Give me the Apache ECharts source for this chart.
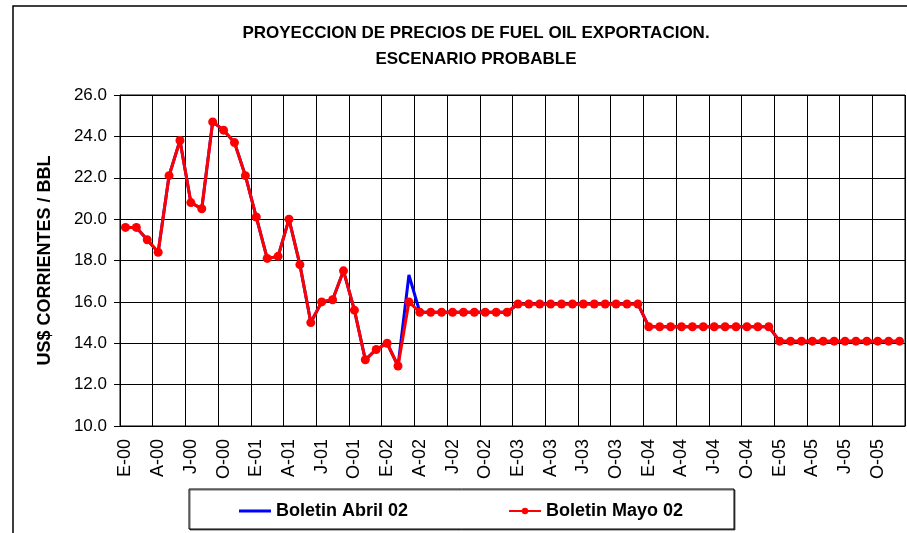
<!DOCTYPE html>
<html>
<head>
<meta charset="utf-8">
<script src="https://cdn.jsdelivr.net/npm/echarts@6/dist/echarts.min.js"></script>
<style>
  html, body { margin: 0; padding: 0; background: #fff; }
  #chart { width: 907px; height: 533px; }
</style>
</head>
<body>
<div id="chart"></div>
<script>
// meses en español (E=enero ... D=diciembre) y años
const monthLetters = ['E', 'F', 'M', 'A', 'M', 'J', 'J', 'A', 'S', 'O', 'N', 'D'];
const years = ['00', '01', '02', '03', '04', '05'];

// Boletin Abril 02 (US$/BBL)
const abril02 = [
  19.6, 19.6, 19.0, 18.4, 22.1, 23.8, 20.8, 20.5, 24.7, 24.3, 23.7, 22.1,
  20.1, 18.1, 18.2, 20.0, 17.8, 15.0, 16.0, 16.1, 17.5, 15.6, 13.2, 13.7,
  14.0, 12.9, 17.3, 15.5, 15.5, 15.5, 15.5, 15.5, 15.5, 15.5, 15.5, 15.5,
  15.9, 15.9, 15.9, 15.9, 15.9, 15.9, 15.9, 15.9, 15.9, 15.9, 15.9, 15.9,
  14.8, 14.8, 14.8, 14.8, 14.8, 14.8, 14.8, 14.8, 14.8, 14.8, 14.8, 14.8,
  14.1, 14.1, 14.1, 14.1, 14.1, 14.1, 14.1, 14.1, 14.1, 14.1, 14.1, 14.1
];

// Boletin Mayo 02 (US$/BBL)
const mayo02 = [
  19.6, 19.6, 19.0, 18.4, 22.1, 23.8, 20.8, 20.5, 24.7, 24.3, 23.7, 22.1,
  20.1, 18.1, 18.2, 20.0, 17.8, 15.0, 16.0, 16.1, 17.5, 15.6, 13.2, 13.7,
  14.0, 12.9, 16.0, 15.5, 15.5, 15.5, 15.5, 15.5, 15.5, 15.5, 15.5, 15.5,
  15.9, 15.9, 15.9, 15.9, 15.9, 15.9, 15.9, 15.9, 15.9, 15.9, 15.9, 15.9,
  14.8, 14.8, 14.8, 14.8, 14.8, 14.8, 14.8, 14.8, 14.8, 14.8, 14.8, 14.8,
  14.1, 14.1, 14.1, 14.1, 14.1, 14.1, 14.1, 14.1, 14.1, 14.1, 14.1, 14.1
];

const categories = [];
years.forEach(y => monthLetters.forEach(m => categories.push(m + '-' + y)));

const font = 'Liberation Sans, Arial, sans-serif';
const chart = echarts.init(document.getElementById('chart'));

const legendText = { fontFamily: font, fontSize: 18, fontWeight: 'bold', color: '#000' };

chart.setOption({
  animation: false,
  backgroundColor: '#fff',
  textStyle: { fontFamily: font },
  title: {
    text: 'PROYECCION DE PRECIOS DE FUEL OIL EXPORTACION.\nESCENARIO PROBABLE',
    left: 471,
    top: 15,
    textAlign: 'center',
    textStyle: {
      fontFamily: font,
      fontSize: 17,
      fontWeight: 'bold',
      color: '#000',
      lineHeight: 26
    }
  },
  graphic: [
    {
      type: 'rect',
      shape: { x: 13, y: 6, width: 1000, height: 1000 },
      style: { fill: 'none', stroke: '#000', lineWidth: 1.5 },
      silent: true
    },
    {
      type: 'rect',
      shape: { x: 189, y: 489, width: 545, height: 40 },
      style: { fill: '#fff', stroke: '#000', lineWidth: 1, shadowColor: 'rgba(0,0,0,0.6)', shadowOffsetX: 1, shadowOffsetY: 1 },
      silent: true,
      z: -1
    }
  ],
  legend: [
    {
      data: [{ name: 'Boletin Abril 02', icon: 'rect' }],
      left: 234,
      top: 497,
      itemWidth: 32,
      itemHeight: 3,
      textStyle: legendText
    },
    {
      data: ['Boletin Mayo 02'],
      left: 503,
      top: 497,
      itemWidth: 32,
      itemHeight: 8,
      textStyle: legendText
    }
  ],
  grid: {
    left: 120,
    top: 95,
    width: 785,
    height: 331,
    show: true,
    borderColor: '#000',
    borderWidth: 1
  },
  xAxis: {
    type: 'category',
    data: categories,
    boundaryGap: true,
    axisLine: { lineStyle: { color: '#000', width: 1 } },
    axisTick: { interval: 2, length: 6, lineStyle: { color: '#000' } },
    splitLine: { show: true, interval: 2, lineStyle: { color: '#000', width: 1 } },
    axisLabel: {
      interval: 2,
      rotate: 90,
      margin: 13,
      fontFamily: font,
      fontSize: 18,
      color: '#000'
    }
  },
  yAxis: {
    type: 'value',
    min: 10,
    max: 26,
    interval: 2,
    name: 'US$ CORRIENTES / BBL',
    nameLocation: 'middle',
    nameRotate: 90,
    nameGap: 66,
    nameTextStyle: { fontFamily: font, fontSize: 18, fontWeight: 'bold', color: '#000' },
    axisLine: { show: true, lineStyle: { color: '#000', width: 1 } },
    axisTick: { show: true, length: 6, lineStyle: { color: '#000' } },
    splitLine: { show: true, lineStyle: { color: '#000', width: 1 } },
    axisLabel: {
      margin: 13,
      fontFamily: font,
      fontSize: 17,
      color: '#000',
      formatter: v => v.toFixed(1)
    }
  },
  series: [
    {
      name: 'Boletin Abril 02',
      type: 'line',
      data: abril02,
      symbol: 'none',
      lineStyle: { color: '#0000ff', width: 3 },
      itemStyle: { color: '#0000ff' },
      z: 2
    },
    {
      name: 'Boletin Mayo 02',
      type: 'line',
      data: mayo02,
      symbol: 'circle',
      symbolSize: 9,
      showAllSymbol: true,
      lineStyle: { color: '#ff0000', width: 3 },
      itemStyle: { color: '#ff0000' },
      z: 3
    }
  ]
});
</script>
</body>
</html>
